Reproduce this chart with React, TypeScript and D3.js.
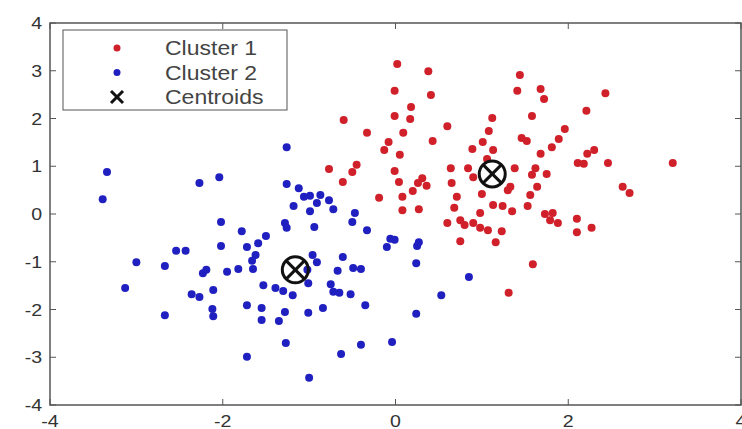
import React from 'react';
import * as d3 from 'd3';

// points, [x, y]
const cluster1: [number, number][] = [
  [0.02, 3.14], [0.38, 2.99], [-0.01, 2.58], [0.41, 2.49], [0.18, 2.24], [-0.01, 2.05],
  [0.17, 1.99], [-0.6, 1.97], [0.6, 1.84], [1.12, 2.01], [1.08, 1.74], [-0.33, 1.7],
  [0.09, 1.7], [-0.08, 1.51], [0.43, 1.53], [1.01, 1.51], [0.89, 1.36], [1.44, 2.91],
  [1.41, 2.58], [1.68, 2.62], [1.72, 2.41], [2.43, 2.53], [2.21, 2.16], [1.58, 2.05],
  [1.96, 1.78], [1.46, 1.59], [1.52, 1.53], [1.89, 1.57], [1.81, 1.4], [1.13, 1.34],
  [2.3, 1.34], [-0.13, 1.34], [0.05, 1.24], [1.68, 1.26], [2.22, 1.26], [2.11, 1.07],
  [2.18, 1.05], [2.46, 1.07], [3.21, 1.07], [-0.01, 0.9], [0.64, 0.96], [0.84, 0.96],
  [1.06, 1.15], [1.38, 0.96], [1.62, 0.96], [1.58, 0.82], [1.75, 0.84], [0.04, 0.67],
  [0.31, 0.75], [0.26, 0.65], [0.36, 0.59], [0.2, 0.48], [0.65, 0.65], [0.9, 0.77],
  [1.0, 0.42], [-0.19, 0.34], [0.08, 0.36], [0.71, 0.36], [1.33, 0.57], [1.3, 0.5],
  [1.64, 0.57], [2.63, 0.57], [2.71, 0.44], [1.56, 0.4], [0.08, 0.08], [0.27, 0.1],
  [0.68, 0.13], [0.98, 0.02], [1.13, 0.19], [1.24, 0.17], [1.35, 0.06], [1.53, 0.17],
  [1.73, 0.0], [1.82, 0.02], [1.79, -0.13], [1.88, -0.19], [2.1, -0.1], [2.1, -0.38],
  [2.27, -0.29], [0.6, -0.19], [0.75, -0.13], [0.8, -0.23], [0.9, -0.19], [0.98, -0.29],
  [1.07, -0.34], [1.23, -0.36], [0.75, -0.57], [1.16, -0.59], [1.59, -1.05], [1.31, -1.65],
  [-0.77, 0.94], [-0.45, 1.03], [-0.5, 0.88], [-0.61, 0.67],
];

const cluster2: [number, number][] = [
  [-1.26, 1.4], [-3.34, 0.88], [-3.39, 0.31], [-2.27, 0.65], [-2.04, 0.77], [-1.26, 0.63],
  [-1.12, 0.54], [-1.06, 0.36], [-0.99, 0.38], [-0.87, 0.4], [-0.77, 0.29], [-0.91, 0.23],
  [-1.18, 0.17], [-0.99, 0.06], [-0.72, 0.1], [-0.47, 0.02], [-2.02, -0.17], [-1.28, -0.19],
  [-1.26, -0.29], [-0.94, -0.27], [-0.5, -0.17], [-0.33, -0.34], [-1.78, -0.36], [-1.5, -0.46],
  [-1.59, -0.61], [-1.72, -0.69], [-2.02, -0.67], [-2.43, -0.77], [-2.54, -0.77], [-1.62, -0.86],
  [-1.66, -0.98], [-0.96, -0.86], [-0.91, -1.01], [-0.61, -0.9], [-3.0, -1.01], [-2.67, -1.09],
  [-2.23, -1.24], [-2.19, -1.17], [-1.95, -1.21], [-1.82, -1.15], [-1.65, -1.15], [-0.67, -1.19],
  [-0.49, -1.13], [-0.4, -1.15], [-1.01, -1.45], [-1.53, -1.49], [-1.39, -1.55], [-1.3, -1.61],
  [-1.19, -1.7], [-0.75, -1.47], [-0.72, -1.63], [-0.65, -1.65], [-0.52, -1.68], [-3.13, -1.55],
  [-2.36, -1.68], [-2.27, -1.74], [-2.11, -1.59], [-1.72, -1.91], [-1.55, -1.97], [-1.28, -2.05],
  [-1.01, -2.07], [-0.84, -1.97], [-0.35, -1.91], [-2.12, -1.99], [-2.11, -2.14], [-2.67, -2.12],
  [-1.55, -2.22], [-1.35, -2.24], [-1.27, -2.7], [-0.63, -2.93], [-0.4, -2.74], [-1.72, -2.99],
  [-1.0, -3.43], [-0.06, -0.52], [-0.01, -0.54], [-0.1, -0.69], [0.27, -0.59], [0.25, -0.67],
  [0.24, -1.03], [0.85, -1.32], [0.53, -1.7], [0.24, -2.09], [-0.04, -2.68], [-1.02, -1.17],
];

const centroids: [number, number][] = [[1.12, 0.84], [-1.16, -1.17]];

const xTicks = [-4, -2, 0, 2, 4];
const yTicks = [-4, -3, -2, -1, 0, 1, 2, 3, 4];
const legendLabels = ['Cluster 1', 'Cluster 2', 'Centroids'];

const W = 742;
const H = 429;
const red = '#d0202a';
const blue = '#2020c0';
const axisColor = '#555';
const font = '"Liberation Sans", Arial, sans-serif';

export default function App() {
  const x = d3.scaleLinear().domain([-4, 4]).range([50, 741]);
  const y = d3.scaleLinear().domain([-4, 4]).range([405, 23]);
  const [x0, x1] = x.range();
  const [y0, y1] = y.range();

  return (
    <svg
      width={W}
      height={H}
      style={{ position: 'absolute', left: 0, top: 0, background: '#fff' }}
      fontFamily={font}
    >
      {/* axes box */}
      <rect x={x0} y={y1} width={x1 - x0} height={y0 - y1} fill="none" stroke={axisColor} strokeWidth={1.5} />
      {xTicks.map((t) => (
        <g key={'xt' + t}>
          <line x1={x(t)} x2={x(t)} y1={y0} y2={y0 - 6} stroke={axisColor} />
          <line x1={x(t)} x2={x(t)} y1={y1} y2={y1 + 6} stroke={axisColor} />
          <text
            transform={`translate(${x(t)},${y0 + 22}) scale(1.15,1)`}
            textAnchor="middle"
            fontSize={17}
            fill="#333"
          >
            {t}
          </text>
        </g>
      ))}
      {yTicks.map((t) => (
        <g key={'yt' + t}>
          <line x1={x0} x2={x0 + 6} y1={y(t)} y2={y(t)} stroke={axisColor} />
          <line x1={x1} x2={x1 - 6} y1={y(t)} y2={y(t)} stroke={axisColor} />
          <text
            transform={`translate(${x0 - 8},${y(t) + 6}) scale(1.15,1)`}
            textAnchor="end"
            fontSize={17}
            fill="#333"
          >
            {t}
          </text>
        </g>
      ))}

      {/* points */}
      {cluster1.map((d, i) => (
        <circle key={'a' + i} cx={x(d[0])} cy={y(d[1])} r={4} fill={red} />
      ))}
      {cluster2.map((d, i) => (
        <circle key={'b' + i} cx={x(d[0])} cy={y(d[1])} r={4} fill={blue} />
      ))}

      {/* centroids: circle with an x */}
      {centroids.map((d, i) => {
        const cx = x(d[0]);
        const cy = y(d[1]);
        return (
          <g key={'c' + i} stroke="#111" strokeWidth={3} fill="none">
            <circle cx={cx} cy={cy} r={13} />
            <line x1={cx - 9} y1={cy - 9} x2={cx + 9} y2={cy + 9} />
            <line x1={cx - 9} y1={cy + 9} x2={cx + 9} y2={cy - 9} />
          </g>
        );
      })}

      {/* legend */}
      <g>
        <rect x={63} y={30} width={224} height={80} fill="#fff" stroke={axisColor} strokeWidth={1} />
        {legendLabels.map((label, i) => {
          const ly = 48 + i * 24.5;
          return (
            <g key={label}>
              {i === 0 && <circle cx={117} cy={ly} r={3.5} fill={red} />}
              {i === 1 && <circle cx={117} cy={ly} r={3.5} fill={blue} />}
              {i === 2 && (
                <g stroke="#111" strokeWidth={3}>
                  <line x1={111} y1={ly - 6} x2={123} y2={ly + 6} />
                  <line x1={111} y1={ly + 6} x2={123} y2={ly - 6} />
                </g>
              )}
              <text
                transform={`translate(165,${ly + 7}) scale(1.15,1)`}
                fontSize={20}
                fill="#444"
              >
                {label}
              </text>
            </g>
          );
        })}
      </g>
    </svg>
  );
}
